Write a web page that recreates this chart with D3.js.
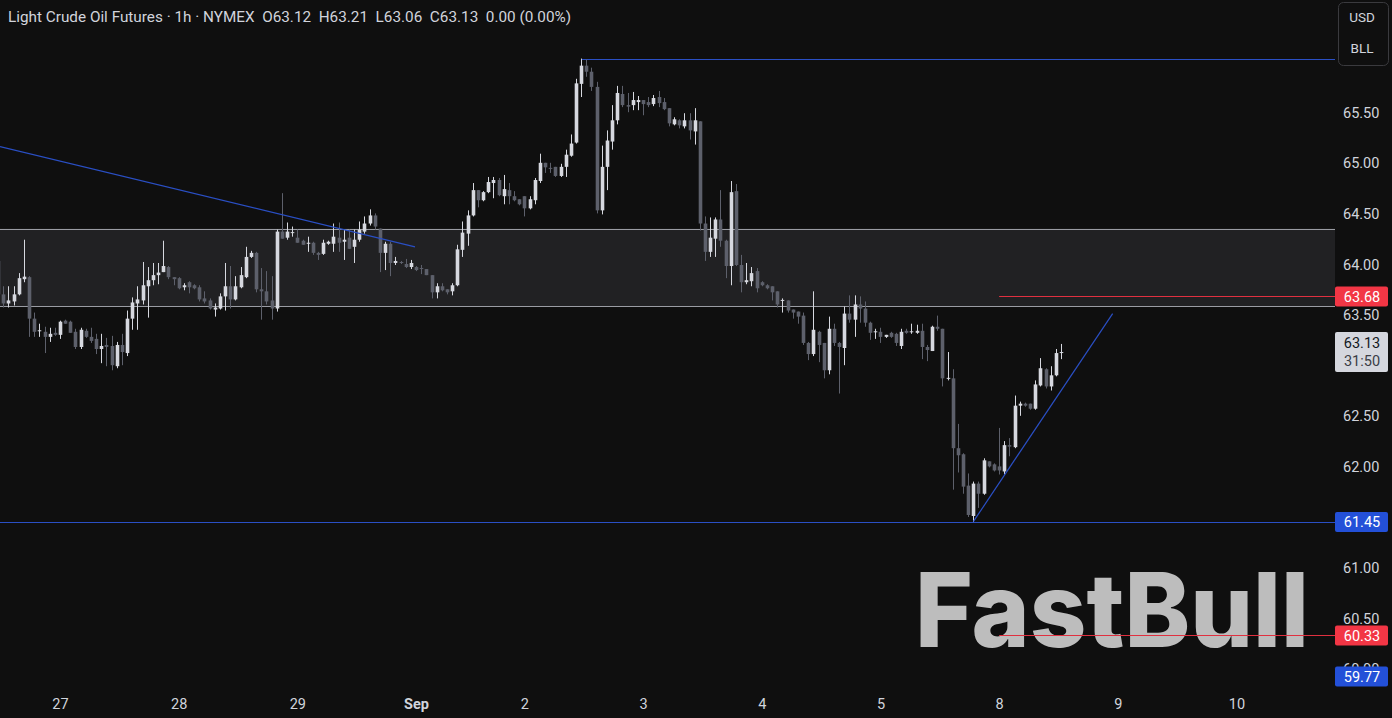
<!DOCTYPE html>
<html><head><meta charset="utf-8">
<script src="https://cdn.jsdelivr.net/npm/d3@7"></script>
<style>
html,body{margin:0;padding:0;background:#0f0f0f;overflow:hidden}
svg{display:block}
</style></head><body>
<svg id="c" width="1392" height="718"></svg>
<script>
// ---- data (hourly candles, index 0..206) ----
const opens=[64.03,63.70,63.61,63.63,63.70,63.85,63.87,63.46,63.34,63.33,
63.28,63.32,63.30,63.44,63.43,63.33,63.18,63.34,63.28,63.26,
63.16,63.20,63.19,62.99,63.20,63.12,63.46,63.61,63.64,63.78,
63.84,63.89,63.92,63.97,63.87,63.86,63.77,63.82,63.79,63.77,
63.66,63.64,63.55,63.56,63.68,63.78,63.65,63.77,63.87,64.07,
64.11,63.75,63.73,63.64,63.56,64.32,64.26,64.31,64.26,64.23,
64.20,64.21,64.11,64.10,64.20,64.20,64.26,64.22,64.26,64.17,
64.24,64.32,64.40,64.48,64.35,64.11,64.20,64.01,64.02,64.00,
63.97,63.97,63.96,63.95,63.89,63.72,63.78,63.75,63.73,63.79,
64.14,64.30,64.48,64.73,64.63,64.71,64.80,64.83,64.67,64.73,
64.67,64.64,64.67,64.55,64.63,64.82,65.00,64.95,64.96,64.87,
64.96,65.07,65.20,65.78,65.96,65.90,65.75,64.53,64.96,65.21,
65.42,65.68,65.57,65.57,65.60,65.62,65.60,65.58,65.65,65.60,
65.54,65.38,65.42,65.36,65.42,65.31,65.41,64.40,64.12,64.25,
64.44,64.23,63.98,64.72,63.99,63.82,63.83,63.93,63.82,63.79,
63.78,63.73,63.64,63.64,63.55,63.53,63.49,63.22,63.11,63.33,
63.22,62.95,63.36,63.22,63.17,63.51,63.45,63.60,63.56,63.42,
63.33,63.33,63.28,63.32,63.31,63.19,63.34,63.33,63.32,63.34,
63.18,63.14,63.38,63.36,62.87,62.87,62.18,62.12,61.81,61.51,
61.83,61.73,62.05,62.02,62.00,61.95,62.21,62.19,62.60,62.62,
62.62,62.57,62.80,62.96,62.79,62.90,63.12];
const highs=[64.05,63.78,63.78,63.78,63.91,64.24,63.88,63.52,63.41,63.38,
63.37,63.37,63.44,63.45,63.44,63.36,63.37,63.36,63.37,63.31,
63.31,63.27,63.29,63.23,63.31,63.54,63.67,63.78,64.02,63.97,
64.01,64.01,64.23,63.98,63.87,63.87,63.81,63.83,63.80,63.79,
63.73,63.66,63.61,63.71,64.01,63.98,63.88,63.97,64.17,64.13,
64.12,63.96,63.93,63.88,64.34,64.70,64.41,64.37,64.34,64.24,
64.27,64.22,64.12,64.24,64.23,64.40,64.41,64.34,64.34,64.34,
64.42,64.47,64.54,64.50,64.35,64.22,64.22,64.07,64.03,64.05,
64.04,63.98,63.99,63.95,63.89,63.81,63.81,63.75,63.81,64.19,
64.42,64.53,64.80,64.73,64.72,64.86,64.86,64.85,64.88,64.80,
64.72,64.64,64.67,64.67,64.85,65.09,65.00,65.00,64.96,64.99,
65.13,65.28,65.83,66.03,66.02,65.94,65.80,65.17,65.32,65.57,
65.76,65.76,65.69,65.70,65.66,65.62,65.65,65.67,65.71,65.64,
65.54,65.45,65.43,65.49,65.49,65.54,65.41,64.47,64.46,64.46,
64.73,64.24,64.82,64.79,64.09,64.01,63.97,63.96,63.83,63.80,
63.78,63.73,63.66,63.64,63.55,63.53,63.52,63.23,63.73,63.34,
63.22,63.48,63.41,63.23,63.58,63.69,63.69,63.68,63.63,63.43,
63.36,63.37,63.30,63.33,63.32,63.36,63.36,63.41,63.40,63.41,
63.20,63.39,63.49,63.36,63.13,62.96,62.42,62.13,61.93,61.85,
61.85,62.08,62.05,62.03,62.38,62.25,62.28,62.70,62.64,62.63,
62.62,62.85,63.07,62.97,62.99,63.16,63.21];
const lows=[63.60,63.57,63.57,63.59,63.69,63.82,63.28,63.28,63.28,63.12,
63.23,63.29,63.26,63.41,63.32,63.16,63.16,63.27,63.22,63.11,
63.02,62.99,62.95,62.97,63.00,63.09,63.35,63.35,63.60,63.47,
63.79,63.80,63.92,63.85,63.79,63.75,63.74,63.71,63.75,63.63,
63.61,63.55,63.48,63.55,63.54,63.56,63.64,63.76,63.86,64.06,
63.72,63.45,63.60,63.45,63.53,64.25,64.24,64.27,64.21,64.19,
64.12,64.09,64.04,64.09,64.19,64.12,64.12,64.04,64.15,64.01,
64.22,64.30,64.38,64.34,63.92,63.94,63.88,63.99,64.00,63.96,
63.95,63.93,63.90,63.89,63.66,63.66,63.73,63.70,63.69,63.78,
64.07,64.18,64.47,64.56,64.62,64.70,64.65,64.67,64.59,64.59,
64.62,64.58,64.47,64.54,64.59,64.80,64.90,64.90,64.86,64.86,
64.86,65.06,65.19,65.65,65.85,65.71,64.50,64.49,64.73,65.13,
65.38,65.55,65.50,65.52,65.52,65.47,65.55,65.56,65.55,65.52,
65.36,65.37,65.34,65.34,65.23,65.18,64.33,64.03,64.07,64.07,
64.17,63.86,63.79,63.98,63.72,63.80,63.78,63.72,63.78,63.75,
63.64,63.57,63.52,63.52,63.46,63.41,63.20,63.05,63.09,63.03,
62.87,62.91,63.19,62.72,63.00,63.42,63.28,63.42,63.38,63.25,
63.26,63.22,63.27,63.27,63.19,63.16,63.31,63.31,63.31,63.06,
63.04,63.14,63.34,62.79,62.85,61.77,61.94,61.73,61.50,61.45,
61.59,61.72,61.99,61.95,61.92,61.92,62.10,62.18,62.50,62.59,
62.56,62.56,62.79,62.77,62.75,62.89,63.06];
const closes=[63.70,63.61,63.64,63.70,63.86,63.875,63.46,63.33,63.345,63.28,
63.31,63.30,63.43,63.41,63.32,63.18,63.35,63.28,63.24,63.16,
63.19,63.18,63.00,63.20,63.13,63.46,63.62,63.65,63.79,63.84,
63.89,63.915,63.98,63.87,63.85,63.76,63.79,63.77,63.76,63.65,
63.63,63.56,63.57,63.68,63.78,63.65,63.78,63.89,64.07,64.11,
63.75,63.73,63.63,63.56,64.32,64.25,64.32,64.315,64.21,64.19,
64.21,64.11,64.09,64.21,64.22,64.27,64.21,64.24,64.15,64.24,
64.34,64.40,64.48,64.37,64.11,64.20,64.01,64.03,64.01,63.97,
64.01,63.94,63.955,63.89,63.72,63.78,63.74,63.72,63.79,64.145,
64.31,64.48,64.73,64.63,64.71,64.81,64.83,64.68,64.74,64.67,
64.63,64.59,64.55,64.64,64.83,65.00,64.955,64.946,64.87,64.96,
65.08,65.19,65.785,65.96,65.90,65.75,64.53,64.96,65.22,65.42,
65.69,65.57,65.555,65.62,65.62,65.58,65.57,65.64,65.59,65.53,
65.39,65.43,65.37,65.42,65.32,65.42,64.40,64.12,64.26,64.44,
64.23,63.98,64.71,63.99,63.82,63.84,63.91,63.76,63.79,63.76,
63.72,63.60,63.645,63.54,63.52,63.48,63.22,63.11,63.35,63.20,
62.95,63.36,63.22,63.18,63.51,63.45,63.60,63.56,63.42,63.32,
63.335,63.28,63.30,63.28,63.22,63.33,63.32,63.335,63.34,63.18,
63.15,63.38,63.36,62.87,62.875,62.18,62.11,61.80,61.52,61.83,
61.73,62.06,62.00,61.96,61.96,62.21,62.195,62.60,62.62,62.60,
62.57,62.81,62.97,62.79,62.90,63.12,63.13];

const dayTickIndex=[12,35,58,81,102,125,148,171,194,217,240];
const dayTickLabel=["27","28","29","Sep","2","3","4","5","8","9","10"];
const priceTicks=[60.0,60.5,61.0,61.5,62.0,62.5,63.5,64.0,64.5,65.0,65.5];
const zoneTop=64.35, zoneBottom=63.585;
const levelPrices=[66.03,61.45,63.68,60.33];
const levelStart=[113,-5,194,194];
const levelKind=["blue","blue","red","red"];
const badgePrices=[63.68,61.45,60.33,59.77];
const badgeKind=["red","blue","red","blue"];
const trendStart=[[0.37,65.16],[189,61.454]];
const trendEnd=[[80.8,64.17],[216,63.51]];
const lastPrice=63.13, countdown="31:50";
const header="Light Crude Oil Futures · 1h · NYMEX";
const ohlcText="O63.12  H63.21  L63.06  C63.13  0.00 (0.00%)";

// ---- layout ----
const W=1392,H=718,paneR=1335,paneB=690;
const col={bg:"#0f0f0f",up:"#d6d8df",down:"#5d606b",text:"#d1d4dc",zone:"#212123",zoneLine:"#9a9ca3",
  blue:"#2350d8",red:"#f23645",blueLine:"#2a4fc4",redLine:"#e03040"};
const font="Roboto, 'Noto Sans', sans-serif";
const fs=14.5;

const x=d3.scaleLinear().domain([12,240]).range([60,1236.5]);
const y=d3.scaleLinear().domain([64,65]).range([264,162.8]);

const svg=d3.select("#c");
svg.append("rect").attr("width",W).attr("height",H).attr("fill",col.bg);
svg.append("clipPath").attr("id","pane").append("rect").attr("x",0).attr("y",0).attr("width",paneR).attr("height",paneB);
const pane=svg.append("g").attr("clip-path","url(#pane)");

// zone
pane.append("rect").attr("x",0).attr("width",paneR)
  .attr("y",y(zoneTop)).attr("height",y(zoneBottom)-y(zoneTop)).attr("fill",col.zone);
[zoneTop,zoneBottom].forEach(p=>pane.append("line").attr("x1",0).attr("x2",paneR)
  .attr("y1",Math.round(y(p))+0.5).attr("y2",Math.round(y(p))+0.5).attr("stroke",col.zoneLine).attr("stroke-width",1));

// watermark (beneath drawings)
pane.append("text").attr("x",915).attr("y",647).attr("font-family","Inter, 'Open Sans', sans-serif")
  .attr("font-weight",800).attr("font-size",103).attr("fill","#bdbdbd")
  .attr("textLength",394).attr("lengthAdjust","spacingAndGlyphs").text("FastBull");

// horizontal levels
levelPrices.forEach((p,k)=>{
  const yy=Math.round(y(p))+0.5;
  pane.append("line").attr("x1",Math.max(0,x(levelStart[k]))).attr("x2",paneR).attr("y1",yy).attr("y2",yy)
    .attr("stroke",levelKind[k]==="blue"?col.blueLine:col.redLine).attr("stroke-width",1);
});

// candles
const idx=d3.range(opens.length);
const bw=3.6;
const cg=pane.append("g");
cg.selectAll("line.w").data(idx).join("line").attr("class","w")
  .attr("x1",i=>Math.round(x(i))+0.5).attr("x2",i=>Math.round(x(i))+0.5)
  .attr("y1",i=>y(highs[i])).attr("y2",i=>y(lows[i]))
  .attr("stroke",i=>closes[i]>=opens[i]?col.up:col.down).attr("stroke-width",1);
cg.selectAll("rect.b").data(idx).join("rect").attr("class","b")
  .attr("x",i=>Math.round(x(i))+0.5-bw/2).attr("width",bw)
  .attr("y",i=>y(Math.max(opens[i],closes[i])))
  .attr("height",i=>Math.max(1,Math.abs(y(opens[i])-y(closes[i]))))
  .attr("fill",i=>closes[i]>=opens[i]?col.up:col.down);

// trend lines
trendStart.forEach((s,k)=>{
  const e=trendEnd[k];
  pane.append("line").attr("x1",x(s[0])).attr("y1",y(s[1])).attr("x2",x(e[0])).attr("y2",y(e[1]))
    .attr("stroke",col.blueLine).attr("stroke-width",1.2);
});

// price axis
const ya=d3.axisRight(y).tickValues(priceTicks).tickFormat(d3.format(".2f")).tickSize(0).tickPadding(0);
const yg=svg.append("g").attr("transform",`translate(${paneR+8},0)`).call(ya);
yg.select(".domain").remove();
yg.selectAll("text").attr("fill",col.text).attr("font-family",font).attr("font-size",fs).attr("dy","0.35em").attr("x",0);

// time axis
const xa=d3.axisBottom(x).tickValues(dayTickIndex).tickFormat((d,i)=>dayTickLabel[i]).tickSize(0).tickPadding(0);
const xg=svg.append("g").attr("transform","translate(0,699)").call(xa);
xg.select(".domain").remove();
xg.selectAll("text").attr("fill",col.text).attr("font-family",font).attr("font-size",fs).attr("dy","0.71em")
  .attr("font-weight",(d,i)=>dayTickLabel[i]==="Sep"?700:400);

// badges
function badge(yc,txt,bg,fg){
  svg.append("rect").attr("x",paneR).attr("y",yc-10).attr("width",53).attr("height",20).attr("rx",2).attr("fill",bg);
  svg.append("text").attr("x",paneR+27).attr("y",yc).attr("dy","0.36em").attr("text-anchor","middle")
    .attr("font-family",font).attr("font-size",fs).attr("fill",fg).text(txt);
}
badgePrices.forEach((p,k)=>{
  const yc=Math.min(y(p),676.5);
  badge(yc,d3.format(".2f")(p),badgeKind[k]==="blue"?col.blue:col.red,"#ffffff");
});
// last price badge with countdown
{
  const yc=y(lastPrice);
  svg.append("rect").attr("x",paneR).attr("y",yc-20).attr("width",53).attr("height",40).attr("rx",2).attr("fill","#d5d7de");
  svg.append("text").attr("x",paneR+27).attr("y",yc-9).attr("dy","0.36em").attr("text-anchor","middle")
    .attr("font-family",font).attr("font-size",fs).attr("fill","#131722").text(d3.format(".2f")(lastPrice));
  svg.append("text").attr("x",paneR+27).attr("y",yc+9).attr("dy","0.36em").attr("text-anchor","middle")
    .attr("font-family",font).attr("font-size",fs).attr("fill","#3a3d46").text(countdown);
}

// currency/unit box
svg.append("rect").attr("x",1338.5).attr("y",2.5).attr("width",50).attr("height",63).attr("rx",5)
  .attr("fill","none").attr("stroke","#3a3a3e");
svg.append("text").attr("x",1362).attr("y",17).attr("dy","0.36em").attr("text-anchor","middle")
  .attr("font-family",font).attr("font-size",13.5).attr("fill",col.text).text("USD");
svg.append("text").attr("x",1362).attr("y",48).attr("dy","0.36em").attr("text-anchor","middle")
  .attr("font-family",font).attr("font-size",13.5).attr("fill",col.text).text("BLL");

// header
const ht=svg.append("text").attr("x",8).attr("y",21.5).attr("font-family",font).attr("font-size",15.3).attr("fill",col.text)
  .attr("xml:space","preserve");
ht.append("tspan").text(header+"  ");
ht.append("tspan").text(ohlcText);
</script>
</body></html>
